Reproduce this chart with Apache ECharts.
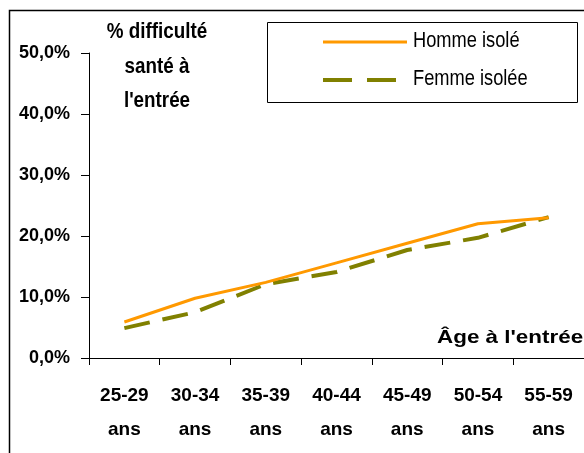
<!DOCTYPE html>
<html><head><meta charset="utf-8">
<script src="https://cdn.jsdelivr.net/npm/echarts@6/dist/echarts.min.js"></script>
<style>html,body{margin:0;padding:0;background:#fff}#c{width:584px;height:453px}</style>
</head><body><div id="c"></div>
<script>
const categories = ['25-29\nans','30-34\nans','35-39\nans','40-44\nans','45-49\nans','50-54\nans','55-59\nans'];
const hommeIsole = [5.9, 9.8, 12.4, 15.6, 18.8, 22.0, 23.0];
const femmeIsolee = [4.9, 7.5, 12.1, 14.1, 17.7, 19.7, 23.1];
const seriesNames = ['Homme isolé', 'Femme isolée'];
const yTitle = ['% difficulté', 'santé à', "l'entrée"];
const xTitle = "Âge à l'entrée";

const chart = echarts.init(document.getElementById('c'));
const font = '"Liberation Sans", Arial, sans-serif';
function txt(x, y, text, f, opts) {
  return Object.assign({type: 'text', x: x, y: y, style: Object.assign({text: text, font: f, fill: '#000', verticalAlign: 'middle'}, opts || {})});
}
chart.setOption({
  animation: false,
  backgroundColor: '#fff',
  grid: {left: 89, top: 53, bottom: 95, right: -11, containLabel: false},
  xAxis: {
    type: 'category', data: categories, boundaryGap: true,
    axisLine: {lineStyle: {color: '#000', width: 1}},
    axisTick: {show: true, length: 7, lineStyle: {color: '#000'}},
    axisLabel: {color: '#000', fontFamily: font, fontWeight: 'bold', fontSize: 19, lineHeight: 34, margin: 21}
  },
  yAxis: {
    type: 'value', min: 0, max: 50, interval: 10,
    axisLine: {show: true, lineStyle: {color: '#000', width: 1}},
    axisTick: {show: true, length: 8, lineStyle: {color: '#000'}},
    splitLine: {show: false},
    axisLabel: {color: '#000', fontFamily: font, fontWeight: 'bold', fontSize: 18, margin: 19,
      formatter: v => v.toFixed(1).replace('.', ',') + '%'}
  },
  series: [
    {name: seriesNames[0], type: 'line', data: hommeIsole, symbol: 'none', z: 3,
     lineStyle: {color: '#FF9900', width: 3}},
    {name: seriesNames[1], type: 'line', data: femmeIsolee, symbol: 'none', z: 2,
     lineStyle: {color: '#808000', width: 4, type: [26, 13]}}
  ],
  graphic: [
    {type: 'rect', shape: {x: 9.5, y: 10.5, width: 700, height: 600}, style: {fill: 'none', stroke: '#000', lineWidth: 1.5}, silent: true},
    {type: 'rect', shape: {x: 267.5, y: 22.5, width: 310, height: 80}, style: {fill: '#fff', stroke: '#000', lineWidth: 1}},
    {type: 'line', shape: {x1: 323, y1: 42, x2: 407, y2: 42}, style: {stroke: '#FF9900', lineWidth: 3}},
    {type: 'line', shape: {x1: 323, y1: 80, x2: 407, y2: 80}, style: {stroke: '#808000', lineWidth: 4, lineDash: [29, 15]}},
    Object.assign(txt(413, 41, seriesNames[0], '22px ' + font), {scaleX: 0.83}),
    Object.assign(txt(413, 79, seriesNames[1], '22px ' + font), {scaleX: 0.83}),
    Object.assign(txt(157, 32, yTitle[0], 'bold 22px ' + font, {align: 'center'}), {scaleX: 0.855}),
    Object.assign(txt(157, 67, yTitle[1], 'bold 22px ' + font, {align: 'center'}), {scaleX: 0.855}),
    Object.assign(txt(157, 101, yTitle[2], 'bold 22px ' + font, {align: 'center'}), {scaleX: 0.855}),
    Object.assign(txt(437, 338, xTitle, 'bold 19px ' + font), {scaleX: 1.18})
  ]
});
</script></body></html>
